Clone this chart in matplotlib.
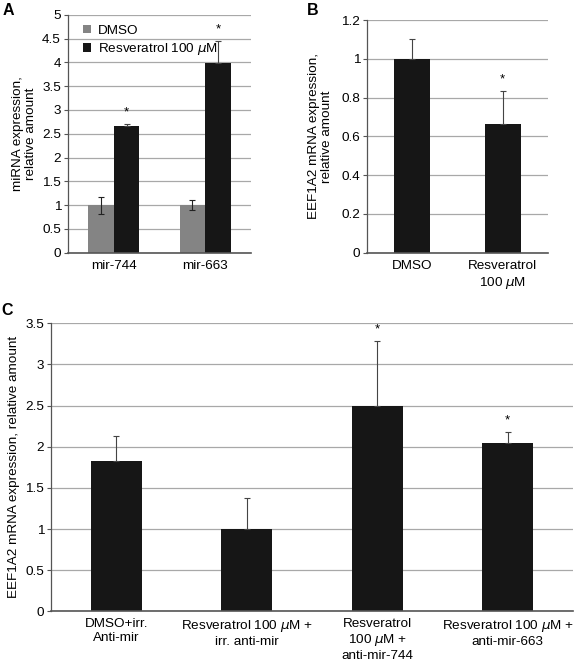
import matplotlib
matplotlib.use("Agg")
import matplotlib.pyplot as plt
import numpy as np

plt.rcParams['font.family'] = ['Liberation Sans', 'DejaVu Sans']

# Panel A data
a_categories = ["mir-744", "mir-663"]
a_dmso = [1.0, 1.0]
a_dmso_err = [0.18, 0.10]
a_res = [2.67, 3.98]
a_res_err = [0.03, 0.47]
a_ticks = [0, 0.5, 1, 1.5, 2, 2.5, 3, 3.5, 4, 4.5, 5]
a_ticklabels = ["0", "0.5", "1", "1.5", "2", "2.5", "3", "3.5", "4", "4.5", "5"]

# Panel B data
b_categories = ["DMSO", "Resveratrol\n100 $\\mu$M"]
b_values = [1.0, 0.665]
b_err = [0.10, 0.17]
b_sig = [False, True]
b_ticks = [0, 0.2, 0.4, 0.6, 0.8, 1.0, 1.2]
b_ticklabels = ["0", "0.2", "0.4", "0.6", "0.8", "1", "1.2"]

# Panel C data
c_categories = ["DMSO+irr.\nAnti-mir",
                "Resveratrol 100 $\\mu$M +\nirr. anti-mir",
                "Resveratrol\n100 $\\mu$M +\nanti-mir-744",
                "Resveratrol 100 $\\mu$M +\nanti-mir-663"]
c_values = [1.83, 1.0, 2.49, 2.04]
c_err = [0.30, 0.38, 0.80, 0.14]
c_sig = [False, False, True, True]
c_ticks = [0, 0.5, 1, 1.5, 2, 2.5, 3, 3.5]
c_ticklabels = ["0", "0.5", "1", "1.5", "2", "2.5", "3", "3.5"]

BLACK = "#161616"
GRAY = "#848484"
GRID = "#a8a8a8"
AXC = "#555555"
FS = 9.7

fig = plt.figure(figsize=(5.77, 6.67), dpi=100)


def style(ax, ticks, labels, ylim):
    ax.set_ylim(*ylim)
    ax.set_yticks(ticks)
    ax.set_yticklabels(labels, fontsize=FS)
    ax.yaxis.grid(True, color=GRID, linewidth=0.9)
    ax.set_axisbelow(True)
    for s in ["top", "right"]:
        ax.spines[s].set_visible(False)
    ax.spines["left"].set_color(AXC)
    ax.spines["bottom"].set_color(AXC)
    ax.spines["left"].set_linewidth(0.9)
    ax.spines["bottom"].set_linewidth(1.2)
    ax.tick_params(axis="y", length=3, width=0.8, color=AXC, pad=2)
    ax.tick_params(axis="x", length=0, labelsize=FS, pad=5)


# Panel A
axA = fig.add_axes([0.1179, 0.6211, 0.3172, 0.3568])
x = np.arange(len(a_categories))
w = 0.28
axA.bar(x - w / 2, a_dmso, w, color=GRAY, label="DMSO")
axA.bar(x + w / 2, a_res, w, color=BLACK, label="Resveratrol 100 $\\mu$M")
axA.errorbar(x - w / 2, a_dmso, yerr=a_dmso_err, fmt="none", ecolor="#222222",
             elinewidth=0.8, capsize=2.5, capthick=0.8)
axA.errorbar(x + w / 2, a_res, yerr=[np.zeros(len(a_res)), a_res_err], fmt="none",
             ecolor="#444444", elinewidth=0.8, capsize=2.5, capthick=0.8)
for xi, v, e in zip(x + w / 2, a_res, a_res_err):
    axA.annotate("*", (xi, v + e), xytext=(0, 4), textcoords="offset points",
                 ha="center", va="bottom", fontsize=9.5)
axA.set_xlim(-0.5, 1.5)
axA.set_xticks(x)
axA.set_xticklabels(a_categories)
style(axA, a_ticks, a_ticklabels, (0, 5))
axA.set_ylabel("miRNA expression,\nrelative amount", fontsize=FS, labelpad=4,
               linespacing=1.1)
leg = axA.legend(loc="upper left", frameon=False, fontsize=FS, handlelength=0.55,
                 handleheight=0.55, handletextpad=0.5, borderaxespad=0.2,
                 labelspacing=0.3, bbox_to_anchor=(0.04, 0.99))

# Panel B
axB = fig.add_axes([0.636, 0.6211, 0.3137, 0.3489])
xb = np.arange(len(b_categories))
axB.bar(xb, b_values, 0.4, color=BLACK)
axB.errorbar(xb, b_values, yerr=[np.zeros(len(b_values)), b_err], fmt="none",
             ecolor="#444444", elinewidth=0.8, capsize=2.5, capthick=0.8)
for xi, v, e, s in zip(xb, b_values, b_err, b_sig):
    if s:
        axB.annotate("*", (xi, v + e), xytext=(0, 4), textcoords="offset points",
                     ha="center", va="bottom", fontsize=9.5)
axB.set_xlim(-0.5, 1.5)
axB.set_xticks(xb)
axB.set_xticklabels(b_categories, linespacing=1.3)
style(axB, b_ticks, b_ticklabels, (0, 1.2))
axB.set_ylabel("EEF1A2 mRNA expression,\nrelative amount", fontsize=FS,
               labelpad=6, linespacing=1.1)

# Panel C
axC = fig.add_axes([0.0884, 0.0835, 0.9047, 0.4318])
xc = np.arange(len(c_categories))
axC.bar(xc, c_values, 0.39, color=BLACK)
axC.errorbar(xc, c_values, yerr=[np.zeros(len(c_values)), c_err], fmt="none",
             ecolor="#444444", elinewidth=0.8, capsize=2.5, capthick=0.8)
for xi, v, e, s in zip(xc, c_values, c_err, c_sig):
    if s:
        axC.annotate("*", (xi, v + e), xytext=(0, 4), textcoords="offset points",
                     ha="center", va="bottom", fontsize=9.5)
axC.set_xlim(-0.5, 3.5)
axC.set_xticks(xc)
axC.set_xticklabels(c_categories, linespacing=1.2)
style(axC, c_ticks, c_ticklabels, (0, 3.5))
axC.set_ylabel("EEF1A2 mRNA expression, relative amount", fontsize=FS,
               labelpad=4)

# Panel letters
fig.text(0.005, 0.995, "A", fontsize=11.5, fontweight="bold", va="top", ha="left")
fig.text(0.532, 0.995, "B", fontsize=11.5, fontweight="bold", va="top", ha="left")
fig.text(0.003, 0.545, "C", fontsize=11.5, fontweight="bold", va="top", ha="left")

fig.savefig("out.png", dpi=100)
